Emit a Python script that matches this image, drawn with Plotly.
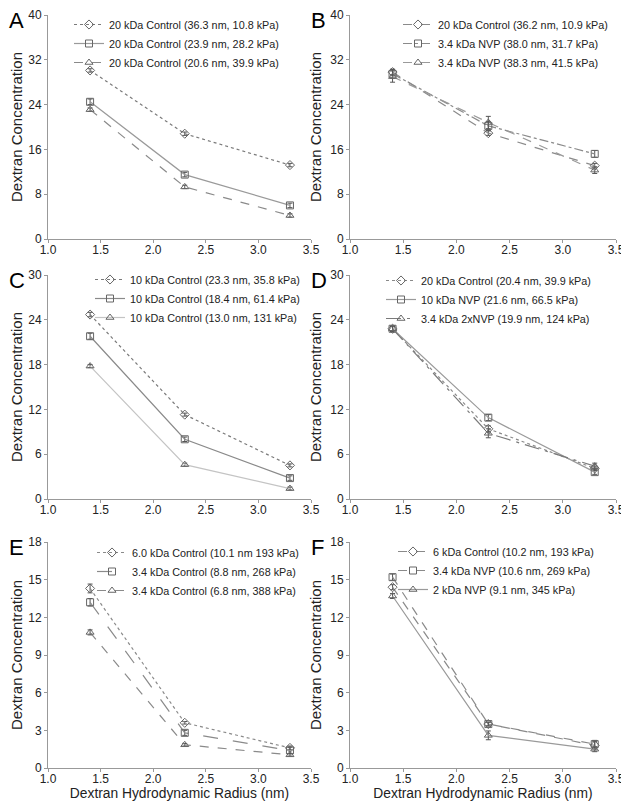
import plotly.graph_objects as go

# page is 629x812; the browser's body margin offsets the figure by 8px
OX, OY = 8, 8
W, H = 621, 796
radius = [1.4, 2.3, 3.3]

# Panel A
A_names = ["20 kDa Control (36.3 nm, 10.8 kPa)", "20 kDa Control (23.9 nm, 28.2 kPa)", "20 kDa Control (20.6 nm, 39.9 kPa)"]
A_vals = [[30.1, 18.8, 13.2], [24.5, 11.5, 6.0], [23.1, 9.3, 4.2]]
A_err = [[0.3, 0.3, 0.3], [0.5, 0.4, 0.4], [0.3, 0.3, 0.3]]
# Panel B
B_names = ["20 kDa Control (36.2 nm, 10.9 kPa)", "3.4 kDa NVP (38.0 nm, 31.7 kPa)", "3.4 kDa NVP (38.3 nm, 41.5 kPa)"]
B_vals = [[29.8, 18.9, 13.1], [29.5, 20.2, 15.2], [29.0, 20.8, 12.3]]
B_err = [[0.5, 0.4, 0.4], [0.8, 0.8, 0.6], [1.0, 1.1, 0.6]]
# Panel C
C_names = ["10 kDa Control (23.3 nm, 35.8 kPa)", "10 kDa Control (18.4 nm, 61.4 kPa)", "10 kDa Control (13.0 nm, 131 kPa)"]
C_vals = [[24.7, 11.3, 4.5], [21.8, 8.0, 2.8], [17.8, 4.6, 1.4]]
C_err = [[0.3, 0.2, 0.2], [0.4, 0.3, 0.3], [0.2, 0.2, 0.2]]
# Panel D
D_names = ["20 kDa Control (20.4 nm, 39.9 kPa)", "10 kDa NVP (21.6 nm, 66.5 kPa)", "3.4 kDa 2xNVP (19.9 nm, 124 kPa)"]
D_vals = [[22.8, 9.4, 4.1], [22.8, 10.9, 3.6], [22.8, 8.8, 4.4]]
D_err = [[0.3, 0.4, 0.3], [0.4, 0.4, 0.3], [0.3, 0.6, 0.4]]
# Panel E
E_names = ["6.0 kDa Control (10.1 nm 193 kPa)", "3.4 kDa Control (8.8 nm, 268 kPa)", "3.4 kDa Control (6.8 nm, 388 kPa)"]
E_vals = [[14.3, 3.6, 1.6], [13.2, 2.8, 1.4], [10.8, 1.85, 1.05]]
E_err = [[0.35, 0.1, 0.15], [0.3, 0.2, 0.25], [0.2, 0.1, 0.1]]
# Panel F
F_names = ["6 kDa Control (10.2 nm, 193 kPa)", "3.4 kDa NVP (10.6 nm, 269 kPa)", "2 kDa NVP (9.1 nm, 345 kPa)"]
F_vals = [[14.4, 3.5, 1.8], [15.2, 3.5, 1.9], [13.7, 2.6, 1.5]]
F_err = [[0.2, 0.15, 0.3], [0.25, 0.15, 0.3], [0.2, 0.35, 0.2]]

x_ticks = [1.0, 1.5, 2.0, 2.5, 3.0, 3.5]
panel_letters = ["A", "B", "C", "D", "E", "F"]
y_max = [40, 40, 30, 30, 18, 18]
y_dtick = [8, 8, 6, 6, 3, 3]

symbols = ["diamond-open", "square-open", "triangle-up-open"]
dashes = {
    "A": ["dot", "solid", "dash"],
    "B": ["dash", "dashdot", "dash"],
    "C": ["dot", "solid", "solid"],
    "D": ["dot", "solid", "longdashdot"],
    "E": ["dot", "longdash", "dash"],
    "F": ["dash", "dash", "solid"],
}
colors = {
    "A": ["#7a7a7a", "#9a9a9a", "#8a8a8a"],
    "B": ["#8a8a8a", "#8a8a8a", "#9a9a9a"],
    "C": ["#7a7a7a", "#8a8a8a", "#c4c4c4"],
    "D": ["#8a8a8a", "#9a9a9a", "#7a7a7a"],
    "E": ["#8a8a8a", "#8a8a8a", "#8a8a8a"],
    "F": ["#8a8a8a", "#8a8a8a", "#9a9a9a"],
}

panels = {
    "A": (A_names, A_vals, A_err),
    "B": (B_names, B_vals, B_err),
    "C": (C_names, C_vals, C_err),
    "D": (D_names, D_vals, D_err),
    "E": (E_names, E_vals, E_err),
    "F": (F_names, F_vals, F_err),
}

# page-pixel boxes (x0, x1, ytop, ybottom)
boxes = {
    "A": (48, 311, 15, 239),
    "B": (350, 616, 15, 239),
    "C": (48, 311, 275, 499),
    "D": (350, 616, 275, 499),
    "E": (48, 311, 542, 768),
    "F": (350, 616, 542, 768),
}
# legend left / top in page pixels
legend_pos = {
    "A": (69, 10),
    "B": (398, 10),
    "C": (90, 265),
    "D": (381, 266),
    "E": (92, 538),
    "F": (393, 537),
}


def px(x):
    return (x - OX) / W


def py(y):
    return 1 - (y - OY) / H


FONT = "Liberation Sans, Arial, sans-serif"
fig = go.Figure()
layout = dict(
    width=W, height=H, margin=dict(l=0, r=0, t=0, b=0, autoexpand=False),
    paper_bgcolor="white", plot_bgcolor="white",
    font=dict(family=FONT, color="#222"),
    annotations=[],
)

for i, p in enumerate(panel_letters):
    names, vals, errs = panels[p]
    ax = "" if i == 0 else str(i + 1)
    leg = "legend" if i == 0 else "legend" + str(i + 1)
    for k in range(3):
        fig.add_trace(go.Scatter(
            x=radius, y=vals[k], name=names[k], mode="lines+markers",
            xaxis="x" + ax, yaxis="y" + ax, legend=leg,
            line=dict(color=colors[p][k], width=1.2, dash=dashes[p][k]),
            marker=dict(symbol=symbols[k], size=7, color="#666",
                        line=dict(width=1, color="#666")),
            error_y=dict(type="data", array=errs[k], color="#555", thickness=1, width=2.5),
        ))
    x0, x1, yt, yb = boxes[p]
    show_xtitle = p in ("E", "F")
    layout["xaxis" + ax] = dict(
        domain=[px(x0), px(x1)], anchor="y" + ax, range=[1.0, 3.5], tickvals=x_ticks,
        tickformat=".1f", showline=True, linecolor="#999", linewidth=1,
        ticks="outside", ticklen=3, tickcolor="#999", showgrid=False, zeroline=False,
        automargin=False, ticklabelstandoff=-3,
        tickfont=dict(size=12, color="#222", family=FONT),
        title=dict(text="Dextran Hydrodynamic Radius (nm)" if show_xtitle else "",
                   font=dict(size=13.8, color="#222", family=FONT), standoff=2),
    )
    layout["yaxis" + ax] = dict(
        domain=[py(yb), py(yt)], anchor="x" + ax, range=[0, y_max[i]], dtick=y_dtick[i],
        showline=True, linecolor="#999", linewidth=1,
        ticks="outside", ticklen=3, tickcolor="#999", showgrid=False, zeroline=False,
        automargin=False,
        tickfont=dict(size=12, color="#222", family=FONT),
        title=dict(text="Dextran Concentration", font=dict(size=15, color="#222", family=FONT), standoff=4),
    )
    lx, ly = legend_pos[p]
    layout[leg] = dict(
        x=px(lx), y=py(ly), xanchor="left", yanchor="top",
        bgcolor="rgba(0,0,0,0)", font=dict(size=10.8, color="#222", family=FONT),
        itemwidth=30, tracegroupgap=0, borderwidth=0,
    )
    layout["annotations"].append(dict(
        text=p, x=px(x0 - 41), y=py(yt - 9), xref="paper", yref="paper",
        xanchor="left", yanchor="top", showarrow=False,
        font=dict(size=22, color="#000", family=FONT),
    ))

fig.update_layout(**layout)
fig.write_html("out.html")
